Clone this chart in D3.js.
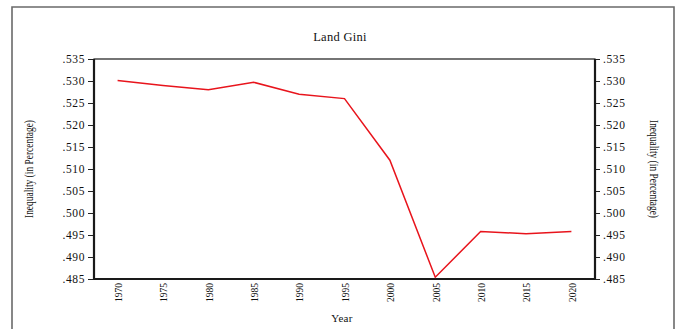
<!DOCTYPE html>
<html>
<head>
<meta charset="utf-8">
<script src="https://cdn.jsdelivr.net/npm/d3@7"></script>
<style>
  html, body { margin: 0; padding: 0; background: #fff; }
  svg { display: block; }
  text { font-family: "Liberation Serif", "Times New Roman", serif; fill: #111; }
</style>
</head>
<body>
<svg id="chart" width="679" height="329"></svg>
<script>
// Land Gini coefficient by year
const years = ["1970", "1975", "1980", "1985", "1990", "1995", "2000", "2005", "2010", "2015", "2020"];
const gini = [0.5301, 0.5290, 0.5280, 0.5297, 0.5270, 0.5260, 0.5120, 0.4854, 0.4958, 0.4953, 0.4958];
const yTicks = [0.485, 0.490, 0.495, 0.500, 0.505, 0.510, 0.515, 0.520, 0.525, 0.530, 0.535];

const svg = d3.select("#chart");
const W = 679, H = 329;
const plot = { left: 94, right: 595, top: 59, bottom: 279 };

// outer frame
svg.append("path")
  .attr("d", `M12,${H + 2} L12,7 L674,7 L674,${H + 2}`)
  .attr("fill", "none")
  .attr("stroke", "#6a6a6a")
  .attr("stroke-width", 1.6);

const x = d3.scalePoint().domain(years).range([plot.left, plot.right]).padding(0.52);
const y = d3.scaleLinear().domain([0.485, 0.535]).range([plot.bottom, plot.top]);

const fmt = v => d3.format(".3f")(v).replace(/^0/, "");

// left axis
const gl = svg.append("g").attr("transform", `translate(${plot.left},0)`)
  .call(d3.axisLeft(y).tickValues(yTicks).tickFormat(fmt).tickSize(6).tickPadding(3));
// right axis
const gr = svg.append("g").attr("transform", `translate(${plot.right},0)`)
  .call(d3.axisRight(y).tickValues(yTicks).tickFormat(fmt).tickSize(5).tickPadding(3));
// bottom axis (labels only)
const gb = svg.append("g").attr("transform", `translate(0,${plot.bottom})`)
  .call(d3.axisBottom(x).tickSize(0).tickPadding(0));

[gl, gr, gb].forEach(g => {
  g.select(".domain").remove();
  g.selectAll(".tick line").attr("stroke", "#222").attr("stroke-width", 1);
  g.selectAll(".tick text")
    .style("font-family", '"Liberation Serif", serif')
    .attr("font-size", 11.5)
    .attr("letter-spacing", 0.6)
    .attr("fill", "#222");
});

gb.selectAll(".tick text")
  .attr("font-size", 11)
  .attr("letter-spacing", 0)
  .attr("text-anchor", "end")
  .attr("dy", "0.35em")
  .attr("transform", "translate(0,4) rotate(-90)")
  .attr("x", 0).attr("y", 0)
  .attr("textLength", 19)
  .attr("lengthAdjust", "spacingAndGlyphs");

// plot box
svg.append("rect")
  .attr("x", plot.left).attr("y", plot.top)
  .attr("width", plot.right - plot.left).attr("height", plot.bottom - plot.top)
  .attr("fill", "none").attr("stroke", "#1a1a1a").attr("stroke-width", 1.2);
svg.append("line").attr("x1", plot.left).attr("x2", plot.left)
  .attr("y1", plot.top).attr("y2", plot.bottom).attr("stroke", "#1a1a1a").attr("stroke-width", 2.2);
svg.append("line").attr("x1", plot.right).attr("x2", plot.right)
  .attr("y1", plot.top).attr("y2", plot.bottom).attr("stroke", "#1a1a1a").attr("stroke-width", 2.2);
svg.append("line").attr("x1", plot.left).attr("x2", plot.right)
  .attr("y1", plot.bottom).attr("y2", plot.bottom).attr("stroke", "#1a1a1a").attr("stroke-width", 2);

// series line
const line = d3.line().x((d, i) => x(years[i])).y(d => y(d));
svg.append("path")
  .datum(gini)
  .attr("d", line)
  .attr("fill", "none")
  .attr("stroke", "#e8141c")
  .attr("stroke-width", 1.5);

// title
svg.append("text")
  .attr("x", 340).attr("y", 41)
  .attr("text-anchor", "middle")
  .attr("font-size", 12.5)
  .attr("letter-spacing", 0.3)
  .text("Land Gini");

// x axis title
svg.append("text")
  .attr("x", 342).attr("y", 322)
  .attr("text-anchor", "middle")
  .attr("font-size", 11)
  .attr("letter-spacing", 0.3)
  .text("Year");

// y axis titles
const yLabel = "Inequality (in Percentage)";
svg.append("text")
  .attr("transform", "translate(33,169) rotate(-90)")
  .attr("text-anchor", "middle")
  .attr("font-size", 12.5)
  .attr("fill", "#222")
  .attr("textLength", 98)
  .attr("lengthAdjust", "spacingAndGlyphs")
  .text(yLabel);
svg.append("text")
  .attr("transform", "translate(650,169) rotate(90)")
  .attr("text-anchor", "middle")
  .attr("font-size", 12.5)
  .attr("fill", "#222")
  .attr("textLength", 98)
  .attr("lengthAdjust", "spacingAndGlyphs")
  .text(yLabel);
</script>
</body>
</html>
